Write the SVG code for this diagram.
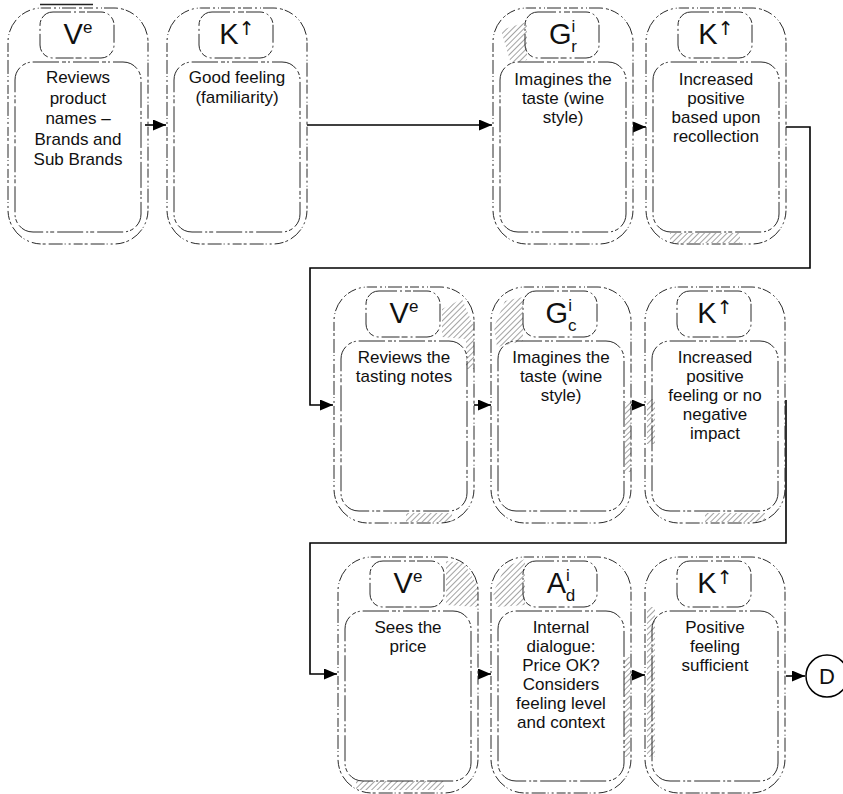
<svg xmlns="http://www.w3.org/2000/svg" width="843" height="794" viewBox="0 0 843 794">
  <defs>
    <style>
      .outer { fill: none; stroke: #2a2a2a; stroke-width: 1; stroke-dasharray: 9 3 2 3 1 2 14 3 3 2; }
      .inner { fill: none; stroke: #2a2a2a; stroke-width: 1; stroke-dasharray: 26 3 4 2 2 3; }
      .tab   { fill: none; stroke: #2a2a2a; stroke-width: 1; stroke-dasharray: 18 3 2 3 6 2; }
      .hatch { fill: url(#hatch); stroke: none; }
      .body  { font-family: "Liberation Sans", Arial, "DejaVu Sans", sans-serif; font-size: 17px; text-anchor: middle; fill: #111; }
      .tag   { font-family: "Liberation Sans", Arial, "DejaVu Sans", sans-serif; font-size: 29px; text-anchor: middle; fill: #111; }
      .sup   { font-size: 17px; }
      .arr   { font-family: "DejaVu Sans", sans-serif; font-size: 19px; }
      .wire  { fill: none; stroke: #000; stroke-width: 1.6; marker-end: url(#ah); }
    </style>
    <marker id="ah" viewBox="0 0 13 11" markerWidth="13" markerHeight="11" refX="13" refY="5.5" markerUnits="userSpaceOnUse" orient="auto">
      <path d="M0,0 L13,5.5 L0,11 z" fill="#000"/>
    </marker>
    <pattern id="hatch" width="4" height="4" patternUnits="userSpaceOnUse" patternTransform="rotate(45)">
      <line x1="0" y1="0" x2="0" y2="4" stroke="#333" stroke-width="0.9"/>
    </pattern>
    <!-- shared node frame: outer rounded box, label tab, text box -->
    <g id="frame">
      <rect class="outer" x="0" y="0" width="140" height="236" rx="34" ry="34"/>
      <rect class="tab" x="32" y="4" width="74" height="46" rx="13" ry="13"/>
      <rect class="inner" x="7" y="54" width="126" height="170" rx="18" ry="18"/>
    </g>
  </defs>

  <rect width="843" height="794" fill="#fff"/>

  <!-- heading rule, cut off at the top edge -->
  <line x1="40" y1="4.5" x2="93" y2="4.5" stroke="#222" stroke-width="1.6"/>

  <!-- connectors -->
  <g id="connectors">
    <path class="wire" d="M145,125 H166"/>
    <path class="wire" d="M307,125 H492"/>
    <path class="wire" d="M633,127 H646"/>
    <path class="wire" d="M786,127 H810 V268 H310 V405 H333"/>
    <path class="wire" d="M474,405 H491"/>
    <path class="wire" d="M631,405 H645"/>
    <path class="wire" d="M786,400 V543 H310 V674 H337"/>
    <path class="wire" d="M480,674 H491"/>
    <path class="wire" d="M631,675 H645"/>
    <path class="wire" d="M786,676 H805"/>
  </g>

  <!-- row 1 -->
  <g id="n1" transform="translate(8,8)">
    <use href="#frame"/>
    <text class="tag" x="70" y="36">V<tspan class="sup" dy="-11">e</tspan></text>
    <text class="body" x="70" y="75">Reviews</text>
    <text class="body" x="70" y="95.5">product</text>
    <text class="body" x="70" y="116">names –</text>
    <text class="body" x="70" y="136.5">Brands and</text>
    <text class="body" x="70" y="157">Sub Brands</text>
  </g>

  <g id="n2" transform="translate(167,8)">
    <use href="#frame"/>
    <text class="tag" x="70" y="36">K<tspan class="arr" dy="-9">↑</tspan></text>
    <text class="body" x="70" y="75">Good feeling</text>
    <text class="body" x="70" y="95">(familiarity)</text>
  </g>

  <g id="n3" transform="translate(493,8)">
    <polygon class="hatch" points="8,22 34,14 34,52 18,56"/>
    <use href="#frame"/>
    <text class="tag" x="70" y="36">G<tspan class="sup" dy="-12">i</tspan><tspan class="sup" dx="-4" dy="20">r</tspan></text>
    <text class="body" x="70" y="77">Imagines the</text>
    <text class="body" x="70" y="96">taste (wine</text>
    <text class="body" x="70" y="115">style)</text>
  </g>

  <g id="n4" transform="translate(646,8)">
    <rect class="hatch" x="24" y="225" width="70" height="10"/>
    <use href="#frame"/>
    <text class="tag" x="70" y="36">K<tspan class="arr" dy="-9">↑</tspan></text>
    <text class="body" x="70" y="77">Increased</text>
    <text class="body" x="70" y="96">positive</text>
    <text class="body" x="70" y="115">based upon</text>
    <text class="body" x="70" y="134">recollection</text>
  </g>

  <!-- row 2 -->
  <g id="n5" transform="translate(334,287)">
    <polygon class="hatch" points="108,22 128,12 140,40 140,82 132,82 132,52 108,50"/>
    <rect class="hatch" x="72" y="226" width="46" height="9"/>
    <use href="#frame"/>
    <text class="tag" x="70" y="36">V<tspan class="sup" dy="-11">e</tspan></text>
    <text class="body" x="70" y="76">Reviews the</text>
    <text class="body" x="70" y="95">tasting notes</text>
  </g>

  <g id="n6" transform="translate(491,287)">
    <polygon class="hatch" points="3,40 14,14 32,10 32,54 6,60"/>
    <rect class="hatch" x="134" y="115" width="6" height="70"/>
    <use href="#frame"/>
    <text class="tag" x="70" y="36">G<tspan class="sup" dy="-12">i</tspan><tspan class="sup" dx="-4" dy="20">c</tspan></text>
    <text class="body" x="70" y="76">Imagines the</text>
    <text class="body" x="70" y="95">taste (wine</text>
    <text class="body" x="70" y="114">style)</text>
  </g>

  <g id="n7" transform="translate(645,287)">
    <rect class="hatch" x="2" y="112" width="8" height="45"/>
    <rect class="hatch" x="60" y="226" width="60" height="9"/>
    <use href="#frame"/>
    <text class="tag" x="70" y="36">K<tspan class="arr" dy="-9">↑</tspan></text>
    <text class="body" x="70" y="76">Increased</text>
    <text class="body" x="70" y="95">positive</text>
    <text class="body" x="70" y="114">feeling or no</text>
    <text class="body" x="70" y="133">negative</text>
    <text class="body" x="70" y="152">impact</text>
  </g>

  <!-- row 3 -->
  <g id="n8" transform="translate(338,557)">
    <polygon class="hatch" points="108,4 126,6 140,30 140,50 108,48"/>
    <rect class="hatch" x="18" y="224" width="88" height="9"/>
    <use href="#frame"/>
    <text class="tag" x="70" y="36">V<tspan class="sup" dy="-11">e</tspan></text>
    <text class="body" x="70" y="76">Sees the</text>
    <text class="body" x="70" y="95">price</text>
  </g>

  <g id="n9" transform="translate(491,557)">
    <polygon class="hatch" points="2,36 14,10 34,2 34,48 6,50"/>
    <rect class="hatch" x="133" y="100" width="6" height="100"/>
    <use href="#frame"/>
    <text class="tag" x="70" y="36">A<tspan class="sup" dy="-12">i</tspan><tspan class="sup" dx="-4" dy="20">d</tspan></text>
    <text class="body" x="70" y="76">Internal</text>
    <text class="body" x="70" y="95">dialogue:</text>
    <text class="body" x="70" y="114">Price OK?</text>
    <text class="body" x="70" y="133">Considers</text>
    <text class="body" x="70" y="152">feeling level</text>
    <text class="body" x="70" y="171">and context</text>
  </g>

  <g id="n10" transform="translate(645,557)">
    <rect class="hatch" x="2" y="50" width="8" height="150"/>
    <use href="#frame"/>
    <text class="tag" x="70" y="36">K<tspan class="arr" dy="-9">↑</tspan></text>
    <text class="body" x="70" y="76">Positive</text>
    <text class="body" x="70" y="95">feeling</text>
    <text class="body" x="70" y="114">sufficient</text>
  </g>

  <g id="nD">
    <circle cx="827" cy="676" r="21" fill="none" stroke="#000" stroke-width="1.5"/>
    <text class="body" x="827" y="684" style="font-size:22px">D</text>
  </g>
</svg>
